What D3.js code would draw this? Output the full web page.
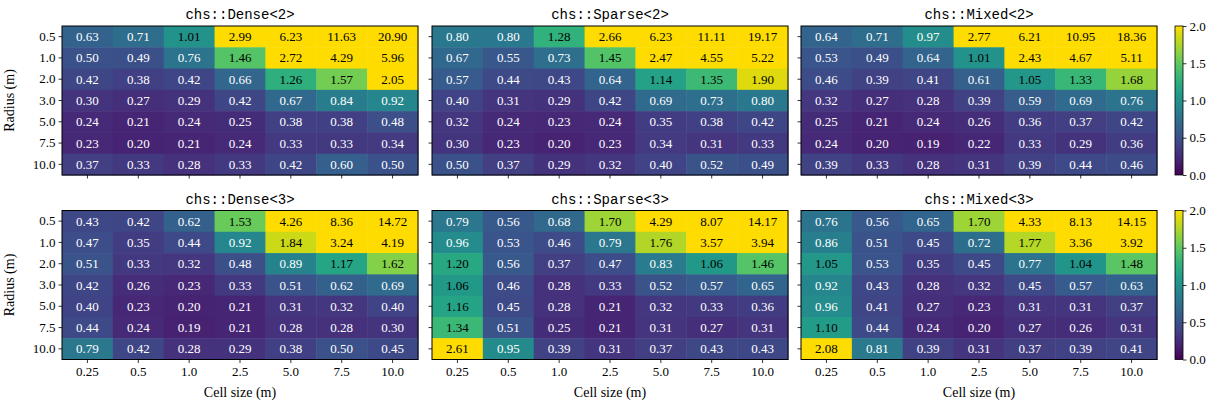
<!DOCTYPE html>
<html>
<head>
<meta charset="utf-8">
<script src="https://cdn.jsdelivr.net/npm/d3@7"></script>
<style>
  html, body { margin: 0; padding: 0; background: #fff; }
  svg { display: block; }
  .tick text, .lbl { font-family: "Liberation Serif", "Times New Roman", serif; font-size: 13px; fill: #000; }
  .axlbl { font-family: "Liberation Serif", "Times New Roman", serif; font-size: 14px; fill: #000; }
  .title { font-family: "Liberation Mono", "Courier New", monospace; font-size: 14px; fill: #000; }
</style>
</head>
<body>
<svg id="chart" width="1218" height="408"></svg>
<script>
// Axis categories
const cellSizes = ["0.25", "0.5", "1.0", "2.5", "5.0", "7.5", "10.0"];
const radii = ["0.5", "1.0", "2.0", "3.0", "5.0", "7.5", "10.0"];
const colorTicks = [0.0, 0.5, 1.0, 1.5, 2.0];

// Panel titles, row by row
const titles = [
  ["chs::Dense<2>", "chs::Sparse<2>", "chs::Mixed<2>"],
  ["chs::Dense<3>", "chs::Sparse<3>", "chs::Mixed<3>"]
];

// Values per panel: rows = radius, columns = cell size
const dense2 = [
  [0.63, 0.71, 1.01, 2.99, 6.23, 11.63, 20.90],
  [0.50, 0.49, 0.76, 1.46, 2.72, 4.29, 5.96],
  [0.42, 0.38, 0.42, 0.66, 1.26, 1.57, 2.05],
  [0.30, 0.27, 0.29, 0.42, 0.67, 0.84, 0.92],
  [0.24, 0.21, 0.24, 0.25, 0.38, 0.38, 0.48],
  [0.23, 0.20, 0.21, 0.24, 0.33, 0.33, 0.34],
  [0.37, 0.33, 0.28, 0.33, 0.42, 0.60, 0.50]
];
const sparse2 = [
  [0.80, 0.80, 1.28, 2.66, 6.23, 11.11, 19.17],
  [0.67, 0.55, 0.73, 1.45, 2.47, 4.55, 5.22],
  [0.57, 0.44, 0.43, 0.64, 1.14, 1.35, 1.90],
  [0.40, 0.31, 0.29, 0.42, 0.69, 0.73, 0.80],
  [0.32, 0.24, 0.23, 0.24, 0.35, 0.38, 0.42],
  [0.30, 0.23, 0.20, 0.23, 0.34, 0.31, 0.33],
  [0.50, 0.37, 0.29, 0.32, 0.40, 0.52, 0.49]
];
const mixed2 = [
  [0.64, 0.71, 0.97, 2.77, 6.21, 10.95, 18.36],
  [0.53, 0.49, 0.64, 1.01, 2.43, 4.67, 5.11],
  [0.46, 0.39, 0.41, 0.61, 1.05, 1.33, 1.68],
  [0.32, 0.27, 0.28, 0.39, 0.59, 0.69, 0.76],
  [0.25, 0.21, 0.24, 0.26, 0.36, 0.37, 0.42],
  [0.24, 0.20, 0.19, 0.22, 0.33, 0.29, 0.36],
  [0.39, 0.33, 0.28, 0.31, 0.39, 0.44, 0.46]
];
const dense3 = [
  [0.43, 0.42, 0.62, 1.53, 4.26, 8.36, 14.72],
  [0.47, 0.35, 0.44, 0.92, 1.84, 3.24, 4.19],
  [0.51, 0.33, 0.32, 0.48, 0.89, 1.17, 1.62],
  [0.42, 0.26, 0.23, 0.33, 0.51, 0.62, 0.69],
  [0.40, 0.23, 0.20, 0.21, 0.31, 0.32, 0.40],
  [0.44, 0.24, 0.19, 0.21, 0.28, 0.28, 0.30],
  [0.79, 0.42, 0.28, 0.29, 0.38, 0.50, 0.45]
];
const sparse3 = [
  [0.79, 0.56, 0.68, 1.70, 4.29, 8.07, 14.17],
  [0.96, 0.53, 0.46, 0.79, 1.76, 3.57, 3.94],
  [1.20, 0.56, 0.37, 0.47, 0.83, 1.06, 1.46],
  [1.06, 0.46, 0.28, 0.33, 0.52, 0.57, 0.65],
  [1.16, 0.45, 0.28, 0.21, 0.32, 0.33, 0.36],
  [1.34, 0.51, 0.25, 0.21, 0.31, 0.27, 0.31],
  [2.61, 0.95, 0.39, 0.31, 0.37, 0.43, 0.43]
];
const mixed3 = [
  [0.76, 0.56, 0.65, 1.70, 4.33, 8.13, 14.15],
  [0.86, 0.51, 0.45, 0.72, 1.77, 3.36, 3.92],
  [1.05, 0.53, 0.35, 0.45, 0.77, 1.04, 1.48],
  [0.92, 0.43, 0.28, 0.32, 0.45, 0.57, 0.63],
  [0.96, 0.41, 0.27, 0.23, 0.31, 0.31, 0.37],
  [1.10, 0.44, 0.24, 0.20, 0.27, 0.26, 0.31],
  [2.08, 0.81, 0.39, 0.31, 0.37, 0.39, 0.41]
];
const panels = [[dense2, sparse2, mixed2], [dense3, sparse3, mixed3]];

// Layout
const panelLefts = [62, 432, 801];
const panelTops = [26, 210.5];
const panelW = 356, panelH = 149;
const cbX = 1175, cbW = 8;

const svg = d3.select("#chart");

// Viridis ramp with a warmer, golden top end
const rampStops = d3.range(0, 0.91, 0.1).map(t => d3.interpolateViridis(t));
rampStops[9] = "#c0d81a";
rampStops.push("#fedc00");
const ramp = d3.interpolateRgbBasis(rampStops);
const color = d3.scaleSequential(ramp).domain([0, 2]).clamp(true);

const x = d3.scaleBand().domain(cellSizes).range([0, panelW]).padding(0);
const y = d3.scaleBand().domain(radii).range([0, panelH]).padding(0);

panels.forEach((row, ri) => {
  row.forEach((data, ci) => {
    const g = svg.append("g")
      .attr("transform", `translate(${panelLefts[ci]},${panelTops[ri]})`);

    const cells = [];
    data.forEach((vals, r) => vals.forEach((v, c) => cells.push({ r: radii[r], c: cellSizes[c], v })));

    g.selectAll("rect.cell").data(cells).join("rect")
      .attr("class", "cell")
      .attr("x", d => x(d.c))
      .attr("y", d => y(d.r))
      .attr("width", x.bandwidth() + 0.5)
      .attr("height", y.bandwidth() + 0.5)
      .attr("fill", d => color(d.v));

    g.selectAll("text.val").data(cells).join("text")
      .attr("class", "lbl val")
      .attr("x", d => x(d.c) + x.bandwidth() / 2)
      .attr("y", d => y(d.r) + y.bandwidth() / 2)
      .attr("text-anchor", "middle")
      .attr("dominant-baseline", "central")
      .style("fill", d => d.v > 1 ? "#000" : "#fff")
      .text(d => d.v.toFixed(2));

    // Frame
    g.append("rect")
      .attr("width", panelW).attr("height", panelH)
      .attr("fill", "none").attr("stroke", "#000").attr("stroke-width", 1);

    // Axes
    const xAxis = d3.axisBottom(x).tickSize(3.5).tickPadding(4);
    if (ri === 0) xAxis.tickFormat("");
    const gx = g.append("g").attr("transform", `translate(0,${panelH})`).call(xAxis);
    gx.select(".domain").remove();

    const yAxis = d3.axisLeft(y).tickSize(3.5).tickPadding(3);
    if (ci > 0) yAxis.tickFormat("");
    const gy = g.append("g").call(yAxis);
    gy.select(".domain").remove();
    g.selectAll(".tick line").attr("stroke", "#000").attr("stroke-width", 0.8);
    g.selectAll(".tick text").attr("font-family", null).attr("font-size", null);

    // Title
    g.append("text")
      .attr("class", "title")
      .attr("x", panelW / 2).attr("y", -7)
      .attr("text-anchor", "middle")
      .text(titles[ri][ci]);

    if (ri === 1) {
      g.append("text").attr("class", "axlbl")
        .attr("x", panelW / 2).attr("y", panelH + 37)
        .attr("text-anchor", "middle")
        .text("Cell size (m)");
    }
    if (ci === 0) {
      g.append("text").attr("class", "axlbl")
        .attr("transform", `translate(-48,${panelH / 2}) rotate(-90)`)
        .attr("text-anchor", "middle")
        .text("Radius (m)");
    }
  });

  // Colourbar
  const top = panelTops[ri];
  const cy = d3.scaleLinear().domain([0, 2]).range([top + panelH, top]);
  const gradId = "cbgrad" + ri;
  const grad = svg.append("defs").append("linearGradient")
    .attr("id", gradId).attr("x1", 0).attr("y1", 1).attr("x2", 0).attr("y2", 0);
  d3.range(0, 1.0001, 0.05).forEach(t => {
    grad.append("stop").attr("offset", t).attr("stop-color", color(t * 2));
  });
  svg.append("rect")
    .attr("x", cbX).attr("y", top).attr("width", cbW).attr("height", panelH)
    .attr("fill", `url(#${gradId})`).attr("stroke", "#000").attr("stroke-width", 0.8);
  const gc = svg.append("g").attr("transform", `translate(${cbX + cbW},0)`)
    .call(d3.axisRight(cy).tickValues(colorTicks).tickFormat(d3.format(".1f")).tickSize(3.5).tickPadding(3));
  gc.select(".domain").remove();
  gc.selectAll(".tick line").attr("stroke", "#000").attr("stroke-width", 0.8);
  gc.selectAll(".tick text").attr("font-family", null).attr("font-size", null);
});
</script>
</body>
</html>
